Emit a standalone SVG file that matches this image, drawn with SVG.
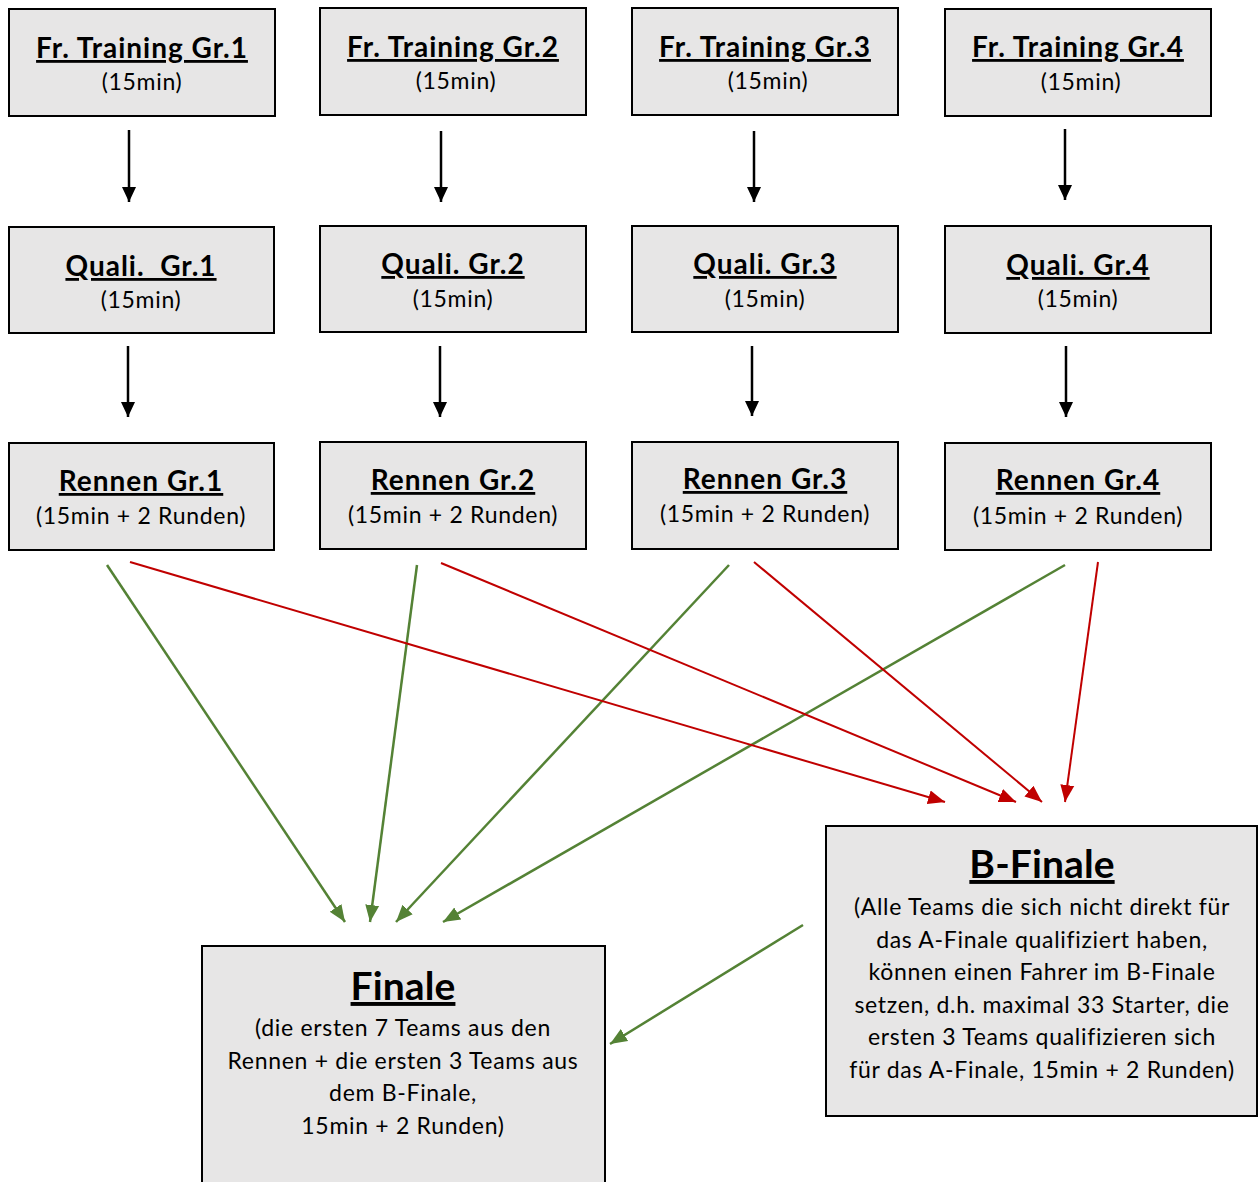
<svg xmlns="http://www.w3.org/2000/svg" width="1258" height="1182" viewBox="0 0 1258 1182">
<defs>
<style>
.box{fill:#e7e6e6;stroke:#000;stroke-width:2}
.t{font-family:Lato,"Open Sans",sans-serif;font-weight:bold;font-size:28px;letter-spacing:1px;text-anchor:middle;text-decoration:underline;fill:#000}
.big{font-size:39px;letter-spacing:0.1px}
.s{font-family:Lato,"Open Sans",sans-serif;font-size:23px;letter-spacing:0.7px;text-anchor:middle;fill:#000}
.k{stroke:#000;stroke-width:2.5;fill:none}
.g{stroke:#548235;stroke-width:2.5;fill:none}
.r{stroke:#c00000;stroke-width:2;fill:none}
</style>
<marker id="ak" markerUnits="userSpaceOnUse" markerWidth="16" markerHeight="16" viewBox="0 0 16 16" refX="15" refY="8" orient="auto"><path d="M0,1 L15,8 L0,15 Z" fill="#000"/></marker>
<marker id="ag" markerUnits="userSpaceOnUse" markerWidth="18" markerHeight="16" viewBox="0 0 18 16" refX="17" refY="8" orient="auto"><path d="M0,1 L17,8 L0,15 Z" fill="#548235"/></marker>
<marker id="ar" markerUnits="userSpaceOnUse" markerWidth="18" markerHeight="16" viewBox="0 0 18 16" refX="17" refY="8" orient="auto"><path d="M0,1 L17,8 L0,15 Z" fill="#c00000"/></marker>
</defs>
<rect width="1258" height="1182" fill="#fff"/>

<g id="training1"><rect class="box" x="9" y="9" width="266" height="107"/><text class="t" x="142" y="58">Fr. Training Gr.1</text><text class="s" x="142" y="90">(15min)</text></g>
<g id="training2"><rect class="box" x="320" y="8" width="266" height="107"/><text class="t" x="453" y="57">Fr. Training Gr.2</text><text class="s" x="456" y="89">(15min)</text></g>
<g id="training3"><rect class="box" x="632" y="8" width="266" height="107"/><text class="t" x="765" y="57">Fr. Training Gr.3</text><text class="s" x="768" y="89">(15min)</text></g>
<g id="training4"><rect class="box" x="945" y="9" width="266" height="107"/><text class="t" x="1078" y="57">Fr. Training Gr.4</text><text class="s" x="1081" y="90">(15min)</text></g>

<g id="quali1"><rect class="box" x="9" y="227" width="265" height="106"/><text class="t" x="141" y="276" xml:space="preserve">Quali.  Gr.1</text><text class="s" x="141" y="308">(15min)</text></g>
<g id="quali2"><rect class="box" x="320" y="226" width="266" height="106"/><text class="t" x="453" y="274">Quali. Gr.2</text><text class="s" x="453" y="307">(15min)</text></g>
<g id="quali3"><rect class="box" x="632" y="226" width="266" height="106"/><text class="t" x="765" y="274">Quali. Gr.3</text><text class="s" x="765" y="307">(15min)</text></g>
<g id="quali4"><rect class="box" x="945" y="226" width="266" height="107"/><text class="t" x="1078" y="275">Quali. Gr.4</text><text class="s" x="1078" y="307">(15min)</text></g>

<g id="rennen1"><rect class="box" x="9" y="443" width="265" height="107"/><text class="t" x="141" y="491">Rennen Gr.1</text><text class="s" x="141" y="524">(15min + 2 Runden)</text></g>
<g id="rennen2"><rect class="box" x="320" y="442" width="266" height="107"/><text class="t" x="453" y="490">Rennen Gr.2</text><text class="s" x="453" y="523">(15min + 2 Runden)</text></g>
<g id="rennen3"><rect class="box" x="632" y="442" width="266" height="107"/><text class="t" x="765" y="489">Rennen Gr.3</text><text class="s" x="765" y="522">(15min + 2 Runden)</text></g>
<g id="rennen4"><rect class="box" x="945" y="443" width="266" height="107"/><text class="t" x="1078" y="490">Rennen Gr.4</text><text class="s" x="1078" y="524">(15min + 2 Runden)</text></g>

<g id="finale"><rect class="box" x="202" y="946" width="403" height="250"/>
<text class="t big" x="403" y="1000">Finale</text>
<text class="s" x="403" y="1036">(die ersten 7 Teams aus den</text>
<text class="s" x="403" y="1069">Rennen + die ersten 3 Teams aus</text>
<text class="s" x="403" y="1101">dem B-Finale,</text>
<text class="s" x="403" y="1134">15min + 2 Runden)</text>
</g>
<g id="bfinale"><rect class="box" x="826" y="826" width="431" height="290"/>
<text class="t big" x="1042" y="878">B-Finale</text>
<text class="s" x="1042" y="915">(Alle Teams die sich nicht direkt für</text>
<text class="s" x="1042" y="948">das A-Finale qualifiziert haben,</text>
<text class="s" x="1042" y="980">können einen Fahrer im B-Finale</text>
<text class="s" x="1042" y="1013">setzen, d.h. maximal 33 Starter, die</text>
<text class="s" x="1042" y="1045">ersten 3 Teams qualifizieren sich</text>
<text class="s" x="1042" y="1078">für das A-Finale, 15min + 2 Runden)</text>
</g>

<g id="connectors">
<line class="k" x1="129" y1="130" x2="129" y2="202" marker-end="url(#ak)"/>
<line class="k" x1="441" y1="131" x2="441" y2="202" marker-end="url(#ak)"/>
<line class="k" x1="754" y1="131" x2="754" y2="202" marker-end="url(#ak)"/>
<line class="k" x1="1065" y1="129" x2="1065" y2="200" marker-end="url(#ak)"/>
<line class="k" x1="128" y1="346" x2="128" y2="417" marker-end="url(#ak)"/>
<line class="k" x1="440" y1="346" x2="440" y2="417" marker-end="url(#ak)"/>
<line class="k" x1="752" y1="346" x2="752" y2="416" marker-end="url(#ak)"/>
<line class="k" x1="1066" y1="346" x2="1066" y2="417" marker-end="url(#ak)"/>

<line class="g" x1="107" y1="565" x2="345" y2="922" marker-end="url(#ag)"/>
<line class="g" x1="417" y1="565" x2="370" y2="922" marker-end="url(#ag)"/>
<line class="g" x1="729" y1="565" x2="396" y2="922" marker-end="url(#ag)"/>
<line class="g" x1="1065" y1="565" x2="443" y2="922" marker-end="url(#ag)"/>
<line class="g" x1="803" y1="925" x2="610" y2="1044" marker-end="url(#ag)"/>

<line class="r" x1="130" y1="562" x2="945" y2="802" marker-end="url(#ar)"/>
<line class="r" x1="441" y1="563" x2="1016" y2="802" marker-end="url(#ar)"/>
<line class="r" x1="754" y1="562" x2="1042" y2="802" marker-end="url(#ar)"/>
<line class="r" x1="1098" y1="562" x2="1065" y2="802" marker-end="url(#ar)"/>
</g>
</svg>
